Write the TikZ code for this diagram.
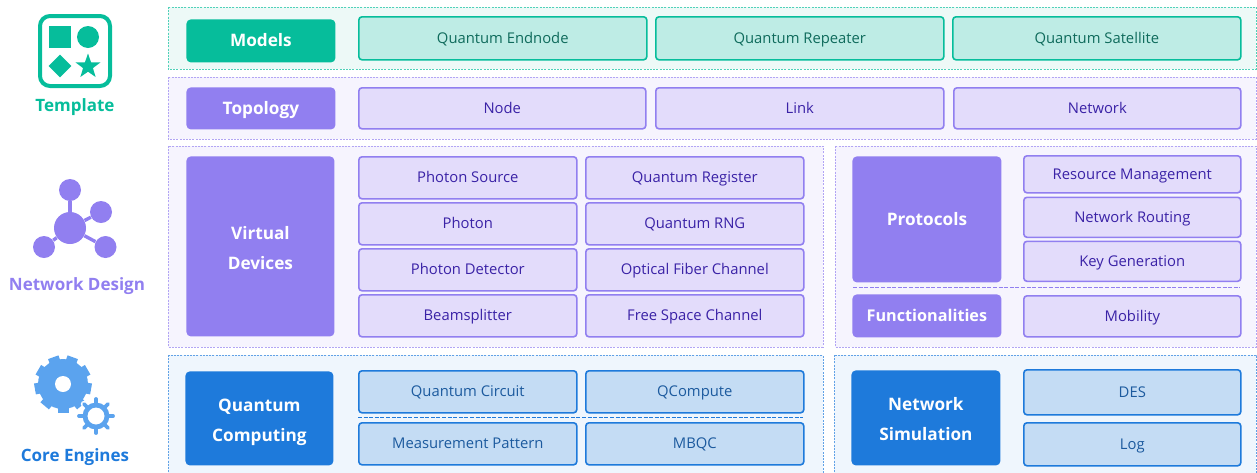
\documentclass[tikz,border=0pt]{standalone}
\usepackage{fontspec}
\setmainfont{Open Sans}
\usetikzlibrary{shapes.geometric}

\definecolor{tealmain}{HTML}{06BD9B}
\definecolor{tealfill}{HTML}{BEECE5}
\definecolor{tealpanel}{HTML}{EDF9F7}
\definecolor{tealtext}{HTML}{0F6B5C}
\definecolor{violetmain}{HTML}{917FF0}
\definecolor{violetfill}{HTML}{E3DCFB}
\definecolor{violetpanel}{HTML}{F6F4FE}
\definecolor{violettext}{HTML}{3A22A6}
\definecolor{bluemain}{HTML}{1E7ADB}
\definecolor{bluefill}{HTML}{C4DCF4}
\definecolor{bluepanel}{HTML}{EFF6FD}
\definecolor{bluetext}{HTML}{1C5A9E}
\definecolor{cogblue}{HTML}{5BA3EE}

\begin{document}
\begin{tikzpicture}[
  x=0.5pt, y=-0.5pt,
  boxsize/.style 2 args={minimum width=#1*0.5pt, minimum height=#2*0.5pt},
  itemsize/.style 2 args={minimum width=(#1-1)*0.5pt, minimum height=(#2-1)*0.5pt},
  every node/.style={align=center, inner sep=0pt, anchor=north west},
  panel/.style={draw=#1main!70, fill=#1panel, line width=0.5pt, dash pattern=on 1pt off 0.6pt},
  head/.style={fill=#1main, text=white, rounded corners=2.2pt, text height=7.6pt, text depth=1.6pt,
    font=\fontsize{8.6}{15}\selectfont\bfseries},
  headtwo/.style={fill=#1main, text=white, rounded corners=2.2pt,
    font=\fontsize{8.6}{15}\selectfont\bfseries},
  item/.style={draw=#1main, fill=#1fill, text=#1text, line width=0.8pt, rounded corners=1.6pt,
    font=\fontsize{7.4}{9}\selectfont, text height=6.5pt, text depth=1.6pt},
  sidelabel/.style={anchor=center, font=\fontsize{8.5}{10}\selectfont\bfseries},
  blob/.style={circle, fill=violetmain, minimum size=#1*0.5pt, anchor=center},
  link/.style={draw=violetmain, line width=1.7pt},
  midline/.style={draw=#1main, line width=0.5pt, dash pattern=on 2pt off 0.8pt}]

\clip (0,0) rectangle (1257,472);

% Background panels
\draw[panel=teal] (168,7) rectangle (1256,69);
\draw[panel=violet] (168,77) rectangle (1256,139);
\draw[panel=violet] (168,146) rectangle (823,347);
\draw[panel=violet] (835,146) rectangle (1256,347);
\draw[panel=blue] (168,355) rectangle (823,480);
\draw[panel=blue] (834,355) rectangle (1256,480);

% Template icon
\draw[tealmain, line width=2pt, rounded corners=5pt] (40,16) rectangle (110,86);
\node[fill=tealmain, boxsize={22}{22}] at (49,26) (tplsquare) {};
\node[circle, fill=tealmain, minimum size=11pt, anchor=center] at (88,37) (tplcircle) {};
\node[diamond, fill=tealmain, minimum size=11.5pt, anchor=center] at (60,66) (tpldiamond) {};
\node[star, star points=5, star point ratio=2.5, fill=tealmain, minimum size=13pt, anchor=center] at (88,66.5) (tplstar) {};
\node[sidelabel, text=tealmain] at (75,106.8) (tpllabel) {Template};

% Network icon
\node[blob=32] at (70,228) (hub) {};
\node[blob=22] at (70,190) (leaftop) {};
\node[blob=22] at (101,212) (leafright) {};
\node[blob=22] at (44,247) (leafleft) {};
\node[blob=22] at (105.5,247) (leaflow) {};
\draw[link] (hub) -- (leaftop);
\draw[link] (hub) -- (leafright);
\draw[link] (hub) -- (leafleft);
\draw[link] (hub) -- (leaflow);
\node[sidelabel, text=violetmain] at (77,286) (netlabel) {Network Design};

% Cog icon
\coordinate (bigcog) at (63,384);
\coordinate (smallcog) at (96,416);
\fill[cogblue] (bigcog) circle (25);
\foreach \a in {10,50,...,330}
  \draw[cogblue, line width=5.5pt] (bigcog) ++(\a:22) -- ++(\a:6.5);
\fill[white] (bigcog) circle (8);
\fill[white] (smallcog) circle (16);
\foreach \a in {0,45,...,315}
  \draw[white, line width=3.2pt, line cap=round] (smallcog) ++(\a:13) -- ++(\a:4);
\foreach \a in {0,45,...,315}
  \draw[cogblue, line width=1.9pt, line cap=round] (smallcog) ++(\a:12) -- ++(\a:5);
\draw[cogblue, line width=2.4pt, fill=white] (smallcog) circle (11);
\node[sidelabel, text=bluemain] at (75,457) (corelabel) {Core Engines};

% Models row
\node[head=teal, boxsize={149}{43}] at (186,19) (models) {Models};
\node[item=teal, itemsize={289}{44}] at (358,16) (endnode) {Quantum Endnode};
\node[item=teal, itemsize={289}{44}] at (655,16) (repeater) {Quantum Repeater};
\node[item=teal, itemsize={289}{44}] at (952,16) (satellite) {Quantum Satellite};

% Topology row
\node[head=violet, boxsize={149}{42}] at (186,87) (topology) {Topology};
\node[item=violet, itemsize={288}{42}] at (358,87) (topnode) {Node};
\node[item=violet, itemsize={289}{42}] at (655,87) (toplink) {Link};
\node[item=violet, itemsize={288}{42}] at (953,87) (topnet) {Network};

% Virtual devices
\node[headtwo=violet, boxsize={148}{180}] at (186,156) (devices) {\rule{0pt}{8.5pt}Virtual\\Devices};
\node[item=violet, itemsize={219}{43}] at (358,156) (source) {Photon Source};
\node[item=violet, itemsize={219}{43}] at (585,156) (register) {Quantum Register};
\node[item=violet, itemsize={219}{43}] at (358,202) (photon) {Photon};
\node[item=violet, itemsize={219}{43}] at (585,202) (rng) {Quantum RNG};
\node[item=violet, itemsize={219}{43}] at (358,248) (detector) {Photon Detector};
\node[item=violet, itemsize={219}{43}] at (585,248) (fiber) {Optical Fiber Channel};
\node[item=violet, itemsize={219}{43}] at (358,294) (splitter) {Beamsplitter};
\node[item=violet, itemsize={219}{43}] at (585,294) (freespace) {Free Space Channel};

% Protocols
\node[head=violet, boxsize={149}{126}] at (852,156) (protocols) {Protocols};
\node[item=violet, itemsize={218}{38}] at (1023,155) (resource) {Resource Management};
\node[item=violet, itemsize={218}{41}] at (1023,196.5) (routing) {Network Routing};
\node[item=violet, itemsize={218}{41}] at (1023,240.5) (keygen) {Key Generation};
\draw[midline=violet] (853,287.5) -- (1240,287.5);
\node[head=violet, boxsize={149}{43}, font=\fontsize{8.1}{15}\selectfont\bfseries] at (852,294) (functions) {Functionalities};
\node[item=violet, itemsize={218}{42}] at (1023,295) (mobility) {Mobility};

% Quantum computing
\node[headtwo=blue, boxsize={148}{94}] at (185,371) (computing) {\rule{0pt}{10.5pt}Quantum\\Computing};
\node[item=blue, itemsize={219}{43}] at (358,370) (circuit) {Quantum Circuit};
\node[item=blue, itemsize={219}{43}] at (585,370) (qcompute) {QCompute};
\draw[midline=blue] (358,417) -- (803,417);
\node[item=blue, itemsize={219}{43}] at (358,422) (pattern) {Measurement Pattern};
\node[item=blue, itemsize={219}{43}] at (585,422) (mbqc) {MBQC};

% Network simulation
\node[headtwo=blue, boxsize={149}{95}] at (851,370) (simulation) {\rule{0pt}{7.5pt}Network\\Simulation};
\node[item=blue, itemsize={218}{46}] at (1023,369) (des) {DES};
\node[item=blue, itemsize={218}{44}] at (1023,422) (log) {Log};

\end{tikzpicture}
\end{document}
